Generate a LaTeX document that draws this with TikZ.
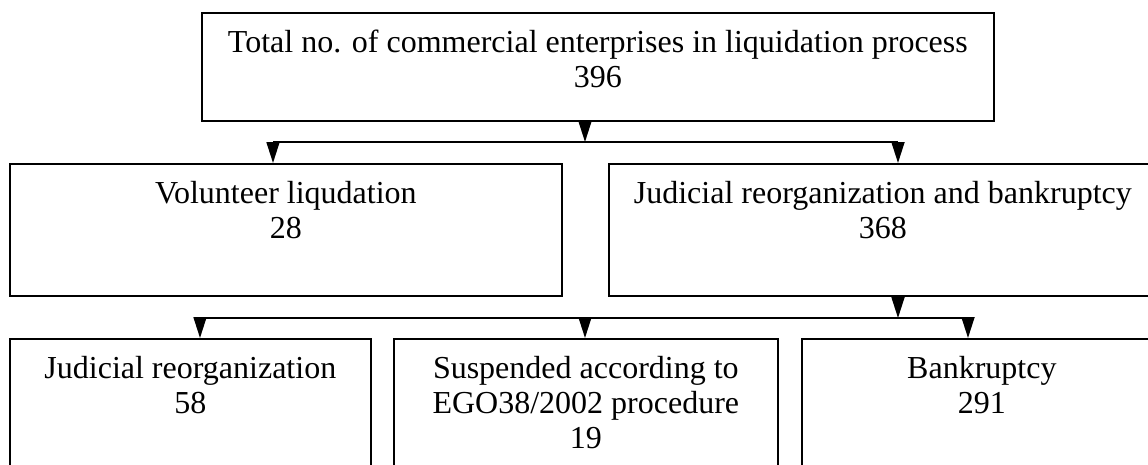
\documentclass[tikz,border=0pt]{standalone}
\usepackage{fontspec}
\setmainfont{Liberation Serif}
\usetikzlibrary{arrows.meta}
\newcommand{\boxtext}[3]{\parbox[t][#2pt][t]{#1pt}{\centering\rule{0pt}{40pt}#3}}
\tikzset{
  entbox/.style={draw, line width=1.7pt, inner sep=0pt, anchor=north west, font=\fontsize{32}{35}\selectfont},
  link/.style={line width=1.7pt},
  flow/.style={link, -{Triangle[width=13pt,length=21pt]}},
}
\begin{document}
\begin{tikzpicture}[x=1pt, y=-1pt]
\path[use as bounding box, clip] (0,0) rectangle (1148,464);
% boxes
\node[entbox] (total) at (201,12) {\boxtext{792}{108}{Total no. of commercial enterprises in liquidation process\\396}};
\node[entbox] (vol) at (9,163) {\boxtext{552}{132}{Volunteer liqudation\\28}};
\node[entbox] (jud) at (608,163) {\boxtext{548}{132}{Judicial reorganization and bankruptcy\\368}};
\node[entbox] (reorg) at (9,338) {\boxtext{361}{140}{Judicial reorganization\\58}};
\node[entbox] (susp) at (393,338) {\boxtext{384}{140}{Suspended according to\\EGO38/2002 procedure\\19}};
\node[entbox] (bank) at (801,338) {\boxtext{360}{140}{Bankruptcy\\291}};
% first split
\coordinate (s1) at (585,142);
\coordinate (s1l) at (273,142);
\coordinate (s1r) at (898,142);
\draw[flow] (total.south -| s1) -- (s1);
\draw[link] (s1l) -- (s1r);
\draw[flow] (s1l) -- (s1l |- vol.north);
\draw[flow] (s1r) -- (s1r |- jud.north);
% second split
\coordinate (s2) at (898,318);
\coordinate (s2l) at (200,318);
\coordinate (s2m) at (585,318);
\coordinate (s2r) at (968,318);
\draw[flow] (jud.south -| s2) -- (s2);
\draw[link] (s2l) -- (s2r);
\draw[flow] (s2l) -- (s2l |- reorg.north);
\draw[flow] (s2m) -- (s2m |- susp.north);
\draw[flow] (s2r) -- (s2r |- bank.north);
\end{tikzpicture}
\end{document}
